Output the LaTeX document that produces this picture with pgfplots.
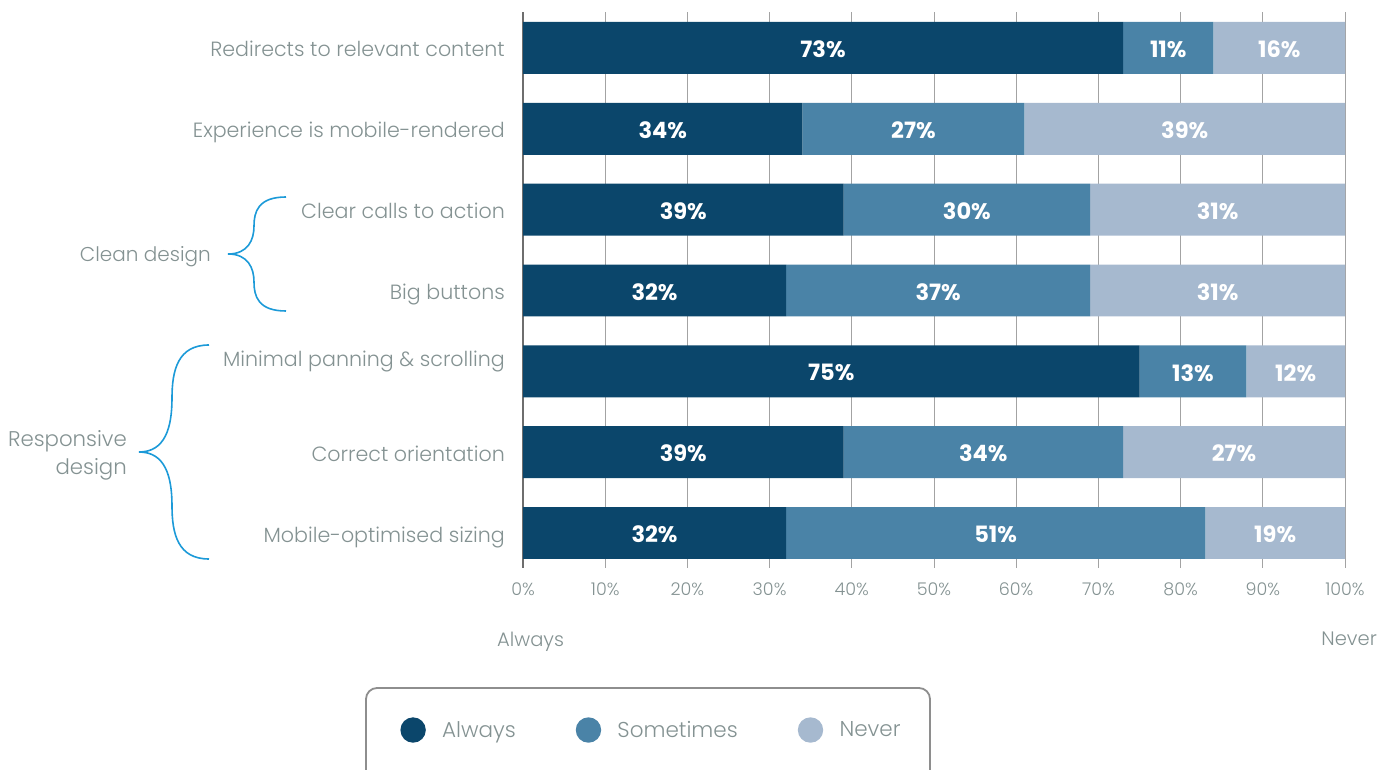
\documentclass[border=0pt]{standalone}
\usepackage{pgfplots}
\pgfplotsset{compat=1.18}
\usepackage{pgfplotstable}
\usepackage{fontspec}
\setmainfont{Poppins}
\newfontfamily\lightfont{Poppins Light}
\newfontfamily\numfont{Poppins}

\definecolor{cdark}{HTML}{0B466B}
\definecolor{cmid}{HTML}{4A83A7}
\definecolor{clight}{HTML}{A6B9CF}
\definecolor{gtext}{HTML}{849292}
\definecolor{cbrace}{HTML}{1C9AD8}
\definecolor{cgrid}{HTML}{A3A3A3}
\definecolor{caxis}{HTML}{6E6E6E}
\definecolor{cframe}{HTML}{8E8E8E}

% share of respondents per feature: always / sometimes / never
\pgfplotstableread{
row a  s  n
0   73 11 16
1   34 27 39
2   39 30 31
3   32 37 31
4   75 13 12
5   39 34 27
6   32 51 19
}\datatable

\pgfplotsset{
  frame/.style={
    at={(523pt,201pt)}, anchor=south west,
    width=822pt, height=556pt, scale only axis,
    xmin=0, xmax=100, ymin=-0.445, ymax=6.433, y dir=reverse,
  },
}

\begin{document}
\begin{tikzpicture}
\path[use as bounding box] (0,0) rectangle (1379pt,769pt);

\begin{axis}[
  frame,
  xbar stacked, bar width=0.643,
  axis line style={draw=none},
  major tick length=0pt,
  xtick={0,10,...,100},
  xticklabels={0\%,10\%,20\%,30\%,40\%,50\%,60\%,70\%,80\%,90\%,100\%},
  xticklabel style={font=\lightfont\fontsize{17.5}{19}\selectfont, text=gtext,
    inner sep=0pt, anchor=base, yshift=-27pt},
  xmajorgrids, grid style={cgrid, line width=0.9pt},
  extra x ticks={0}, extra x tick labels={},
  extra x tick style={grid style={caxis, line width=1.8pt}},
  ytick={0,...,6},
  yticklabels={Redirects to relevant content, Experience is mobile-rendered,
    Clear calls to action, Big buttons, \raisebox{14pt}{Minimal panning \& scrolling},
    Correct orientation, Mobile-optimised sizing},
  yticklabel style={font=\lightfont\fontsize{20.6}{23}\selectfont, text=gtext,
    anchor=base east, inner sep=0pt, xshift=-18pt, yshift=-9pt},
  legend columns=3,
  legend style={at={(axis description cs:0.1563,-0.2914)}, anchor=center,
    draw=none, fill=none, font=\lightfont\fontsize{21.5}{24}\selectfont, text=gtext,
    /tikz/every even column/.append style={column sep=58pt}},
]
\addplot[fill=cdark, draw=none,
  legend image code/.code={\fill[cdark] (10pt,0pt) circle (12.7pt); \path (37pt,0pt);}]
  table[x=a, y=row]{\datatable};
\addlegendentry{Always}
\addplot[fill=cmid, draw=none,
  legend image code/.code={\fill[cmid] (10pt,0pt) circle (12.7pt); \path (37pt,0pt);}]
  table[x=s, y=row]{\datatable};
\addlegendentry{Sometimes}
\addplot[fill=clight, draw=none,
  legend image code/.code={\fill[clight] (10pt,0pt) circle (12.7pt); \path (37pt,0pt);}]
  table[x=n, y=row]{\datatable};
\addlegendentry{Never}
\end{axis}

% value labels centred on each segment
\begin{axis}[
  frame, hide axis,
  point meta=explicit,
  nodes near coords={\pgfmathprintnumber[assume math mode=true]{\pgfplotspointmeta}\%},
  every node near coord/.append style={anchor=center, text=white, yshift=-1.5pt,
    font=\numfont\bfseries\fontsize{22.5}{24}\selectfont},
]
\addplot[draw=none, mark=none] table[x expr=\thisrow{a}/2, y=row, meta=a]{\datatable};
\addplot[draw=none, mark=none] table[x expr=\thisrow{a}+\thisrow{s}/2, y=row, meta=s]{\datatable};
\addplot[draw=none, mark=none] table[x expr=(\thisrow{a}+\thisrow{s}+100)/2, y=row, meta=n]{\datatable};
\end{axis}

\begin{scope}[shift={(0pt,769pt)}, x=1pt, y=-1pt]
  % group braces
  \draw[cbrace, line width=1.6pt]
    (286,197) .. controls (258,197) and (254,212) .. (254,226)
    .. controls (254,240) and (248,254) .. (228,254)
    .. controls (248,254) and (254,268) .. (254,282)
    .. controls (254,296) and (258,311) .. (286,311);
  \draw[cbrace, line width=1.6pt]
    (209,345) .. controls (178,345) and (172,370) .. (172,398)
    .. controls (172,428) and (165,452) .. (139,452)
    .. controls (165,452) and (172,476) .. (172,506)
    .. controls (172,534) and (178,559) .. (209,559);
  \begin{scope}[every node/.style={inner sep=0pt, text=gtext, anchor=base east}]
    \node[font=\lightfont\fontsize{20}{22}\selectfont] at (211,262) {Clean design};
    \node[font=\lightfont\fontsize{21.3}{24}\selectfont] at (127,447) {Responsive};
    \node[font=\lightfont\fontsize{21.3}{24}\selectfont] at (127,475) {design};
  \end{scope}
  % scale ends
  \node[anchor=base west, inner sep=0pt, text=gtext, font=\lightfont\fontsize{19.5}{22}\selectfont]
    at (497,646) {Always};
  \node[anchor=base east, inner sep=0pt, text=gtext, font=\lightfont\fontsize{19.5}{22}\selectfont]
    at (1377,645) {Never};
  % legend frame, running off the lower edge
  \clip (0,0) rectangle (1379,769);
  \draw[cframe, line width=1.8pt, rounded corners=11pt] (366,688) rectangle (930,800);
\end{scope}
\end{tikzpicture}
\end{document}
